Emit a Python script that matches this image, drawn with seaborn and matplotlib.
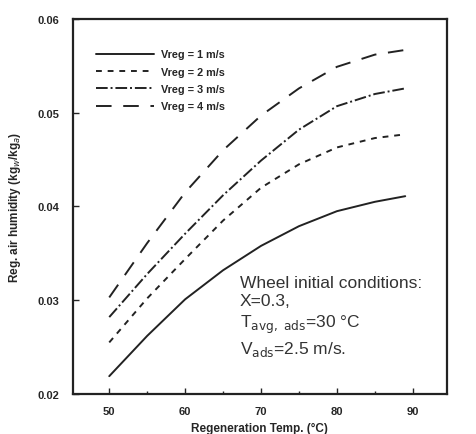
import numpy as np
import pandas as pd
import seaborn as sns
import matplotlib
matplotlib.use("Agg")
import matplotlib.pyplot as plt

temps = [50, 55, 60, 65, 70, 75, 80, 85, 89]
v1 = [0.0219, 0.0262, 0.0301, 0.0332, 0.0358, 0.0379, 0.0395, 0.0405, 0.0411]
v2 = [0.0255, 0.0302, 0.0344, 0.0385, 0.0420, 0.0445, 0.0463, 0.0473, 0.0477]
v3 = [0.0282, 0.0328, 0.0371, 0.0412, 0.0449, 0.0482, 0.0507, 0.0520, 0.0526]
v4 = [0.0303, 0.0361, 0.0415, 0.0460, 0.0497, 0.0526, 0.0549, 0.0562, 0.0567]
labels = ["Vreg = 1 m/s", "Vreg = 2 m/s", "Vreg = 3 m/s", "Vreg = 4 m/s"]
xticks = [50, 60, 70, 80, 90]
yticks = [0.02, 0.03, 0.04, 0.05, 0.06]

rows = []
for lab, vals in zip(labels, [v1, v2, v3, v4]):
    for t, v in zip(temps, vals):
        rows.append({"T": t, "H": v, "series": lab})
df = pd.DataFrame(rows)

sns.set_theme(style="ticks")
plt.rcParams['font.family'] = ['Liberation Sans', 'DejaVu Sans']

fig = plt.figure(figsize=(4.76, 4.35), dpi=100)
ax = fig.add_axes([0.153, 0.092, 0.786, 0.862])

dashes = {labels[0]: "", labels[1]: (3, 3), labels[2]: (6, 1.5, 1, 1.5), labels[3]: (8, 6)}
sns.lineplot(data=df, x="T", y="H", hue="series", style="series",
             palette=["#222222"] * 4, dashes=dashes, linewidth=1.4, ax=ax)

ax.set_xlim(45.2, 94.5)
ax.set_ylim(0.02, 0.06)
ax.set_xticks(xticks)
ax.set_xticks([55, 65, 75, 85], minor=True)
ax.set_yticks(yticks)
ax.set_xticklabels([str(x) for x in xticks], fontsize=8, fontweight='bold')
ax.set_yticklabels(["%.2f" % y for y in yticks], fontsize=8, fontweight='bold')
ax.tick_params(direction='in', length=4, width=1)
ax.tick_params(axis='x', pad=9)
ax.tick_params(axis='y', pad=10)
ax.tick_params(which='minor', direction='in', length=2.5, width=1)
for s in ax.spines.values():
    s.set_linewidth(1.6)
    s.set_color("#222222")

ax.set_xlabel("Regeneration Temp. (°C)", fontsize=8.5, fontweight='bold', labelpad=4)
ax.set_ylabel("Reg. air humidity (kg$_w$/kg$_a$)", fontsize=8.5, fontweight='bold', labelpad=10)

leg = ax.legend(loc="upper left", bbox_to_anchor=(0.035, 0.945), frameon=False,
                fontsize=7.8, handlelength=5.4, labelspacing=0.68, handletextpad=0.6,
                title=None)
for t in leg.get_texts():
    t.set_fontweight('bold')

ax.text(0.447, 0.318,
        "Wheel initial conditions:\nX=0.3,\nT$_\\mathrm{avg,\\ ads}$=30 °C\nV$_\\mathrm{ads}$=2.5 m/s.",
        transform=ax.transAxes, fontsize=12.5, color="#333333",
        va="top", ha="left", linespacing=1.3)

fig.savefig("out.png", dpi=100)
